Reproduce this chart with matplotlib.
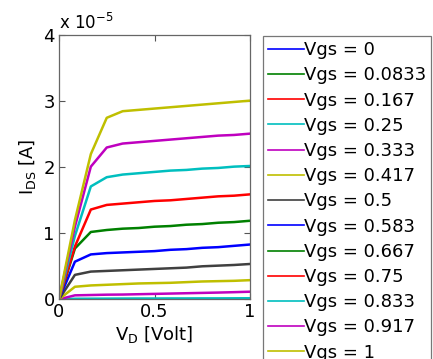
import numpy as np
import matplotlib
matplotlib.use("Agg")
import matplotlib.pyplot as plt

# Drain voltage samples (Volt)
vd = [0, 1/12, 2/12, 3/12, 4/12, 5/12, 6/12, 7/12, 8/12, 9/12, 10/12, 11/12, 1]

# Gate voltages (legend labels)
vgs_labels = ["0", "0.0833", "0.167", "0.25", "0.333", "0.417", "0.5",
              "0.583", "0.667", "0.75", "0.833", "0.917", "1"]

# Drain current, in units of 1e-5 A
ids_0000 = [0, 0, 0, 0, 0, 0, 0, 0, 0, 0, 0, 0, 0]
ids_0083 = [0, 0, 0, 0, 0, 0, 0, 0, 0, 0, 0, 0, 0.0005]
ids_0167 = [0, 0.001, 0.001, 0.001, 0.0015, 0.0015, 0.0015, 0.002, 0.002, 0.002, 0.002, 0.0025, 0.003]
ids_0250 = [0, 0.008, 0.009, 0.010, 0.011, 0.012, 0.012, 0.013, 0.013, 0.014, 0.014, 0.015, 0.016]
ids_0333 = [0, 0.060, 0.065, 0.070, 0.072, 0.077, 0.082, 0.087, 0.092, 0.097, 0.102, 0.108, 0.115]
ids_0417 = [0, 0.19, 0.21, 0.22, 0.23, 0.24, 0.245, 0.25, 0.26, 0.27, 0.275, 0.28, 0.29]
ids_0500 = [0, 0.37, 0.42, 0.43, 0.44, 0.45, 0.46, 0.47, 0.48, 0.50, 0.51, 0.52, 0.535]
ids_0583 = [0, 0.57, 0.68, 0.70, 0.71, 0.72, 0.73, 0.75, 0.76, 0.78, 0.79, 0.81, 0.83]
ids_0667 = [0, 0.77, 1.02, 1.05, 1.07, 1.08, 1.10, 1.11, 1.13, 1.14, 1.16, 1.17, 1.19]
ids_0750 = [0, 0.80, 1.36, 1.43, 1.45, 1.47, 1.49, 1.50, 1.52, 1.54, 1.56, 1.57, 1.59]
ids_0833 = [0, 0.96, 1.71, 1.85, 1.89, 1.91, 1.93, 1.95, 1.96, 1.98, 1.99, 2.01, 2.02]
ids_0917 = [0, 1.10, 2.01, 2.30, 2.36, 2.38, 2.40, 2.42, 2.44, 2.46, 2.48, 2.49, 2.51]
ids_1000 = [0, 1.20, 2.20, 2.75, 2.85, 2.87, 2.89, 2.91, 2.93, 2.95, 2.97, 2.99, 3.01]

series = [ids_0000, ids_0083, ids_0167, ids_0250, ids_0333, ids_0417, ids_0500,
          ids_0583, ids_0667, ids_0750, ids_0833, ids_0917, ids_1000]

colors = [(0, 0, 1), (0, 0.5, 0), (1, 0, 0), (0, 0.75, 0.75), (0.75, 0, 0.75),
          (0.75, 0.75, 0), (0.25, 0.25, 0.25)]

xticks = [0, 0.5, 1]
xticklabels = ["0", "0.5", "1"]
yticks = [0, 1, 2, 3, 4]
yticklabels = ["0", "1", "2", "3", "4"]

plt.rcParams['font.family'] = ['DejaVu Sans']

fig = plt.figure(figsize=(4.33, 3.59), dpi=100)
ax = fig.add_axes([59/433, 1 - 299.3/359, 191/433, 264/359])

handles = []
for i, (y, lab) in enumerate(zip(series, vgs_labels)):
    c = colors[i % len(colors)]
    ax.plot(vd, y, color=c, lw=1.8)
    h, = ax.plot([], [], color=c, lw=1.2, label="Vgs = " + lab)
    handles.append(h)

ax.set_xlim(0, 1)
ax.set_ylim(0, 4)
ax.set_xticks(xticks)
ax.set_xticklabels(xticklabels)
ax.set_yticks(yticks)
ax.set_yticklabels(yticklabels)
ax.tick_params(direction='in', length=4, width=0.8, top=True, right=True,
               labelsize=13, pad=3, colors='#555555', labelcolor='black')
for s in ax.spines.values():
    s.set_color('#666666')
    s.set_linewidth(0.9)

ax.set_xlabel(r"V$_\mathrm{D}$ [Volt]", fontsize=13, labelpad=2)
ax.set_ylabel(r"I$_\mathrm{DS}$ [A]", fontsize=13, labelpad=4)
ax.text(0.0, 1.01, r"x 10$^{-5}$", transform=ax.transAxes, fontsize=12,
        ha='left', va='bottom')

leg = fig.legend(handles=handles, loc='upper left',
                 bbox_to_anchor=(263/433, 1 - 36/359), fontsize=13,
                 frameon=True, fancybox=False, edgecolor='#555555',
                 handlelength=2.0, handletextpad=0.0, labelspacing=0.40,
                 borderpad=0.28, borderaxespad=0.0)
leg.get_frame().set_linewidth(0.9)

fig.savefig("out.png", dpi=100)
